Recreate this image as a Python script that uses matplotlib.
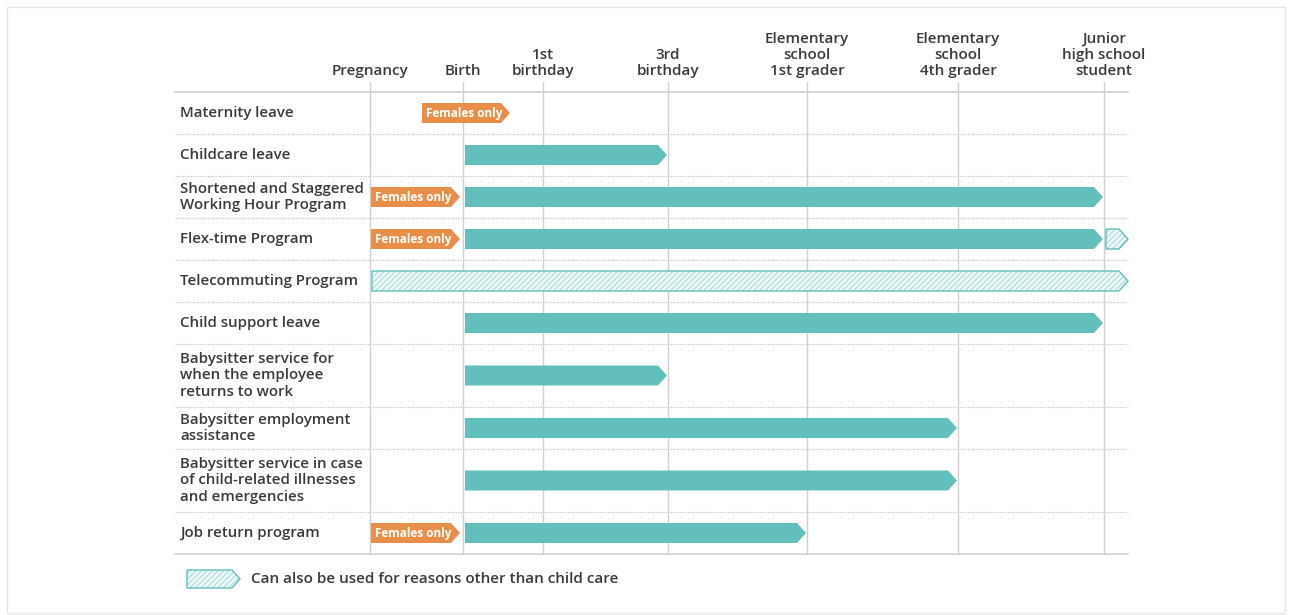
import matplotlib
matplotlib.use("Agg")
import matplotlib.pyplot as plt
from matplotlib.patches import Polygon, Rectangle

# ---------------- data ----------------
milestones = ["Pregnancy", "Birth", "1st\nbirthday", "3rd\nbirthday",
              "Elementary\nschool\n1st grader", "Elementary\nschool\n4th grader",
              "Junior\nhigh school\nstudent"]
programs = ["Maternity leave", "Childcare leave",
            "Shortened and Staggered\nWorking Hour Program", "Flex-time Program",
            "Telecommuting Program", "Child support leave",
            "Babysitter service for\nwhen the employee\nreturns to work",
            "Babysitter employment\nassistance",
            "Babysitter service in case\nof child-related illnesses\nand emergencies",
            "Job return program"]
# child-care period (milestone index start/end), None = no bar
care_start = [None, 1, 1, 1, None, 1, 1, 1, 1, 1]
care_end = [None, 3, 6, 6, None, 6, 3, 5, 5, 4]
# females-only period: "pre" = pregnancy -> birth, "around" = around birth
females_only = ["around", None, "pre", "pre", None, None, None, None, None, "pre"]
# usable for other reasons from this milestone onwards (beyond last milestone)
other_start = [None, None, None, 6, 0, None, None, None, None, None]
tag_text = "Females only"
legend_text = "Can also be used for reasons other than child care"

# ---------------- style / layout ----------------
W, H = 1292, 615
MX = [370, 463, 543, 668, 807, 958, 1104]   # milestone positions on the timeline scale
X_LEFT, X_RIGHT = 172, 1128
TOP = 92
ROW_UNIT = 21
TEAL = "#62BFBC"
ORANGE = "#E98E48"
HATCH_FILL = "#EEF8F8"
HATCH_COL = "#A9DCD9"
TEXT = "#3A3A3A"
GRID = "#CFCFCF"
DOT = "#C4C4C4"
BAR_H = 20
TIP = 9
FONT = ["Open Sans", "DejaVu Sans"]

plt.rcParams["font.family"] = FONT
plt.rcParams["hatch.linewidth"] = 0.8

fig = plt.figure(figsize=(W / 100, H / 100), dpi=100)
fig.patch.set_facecolor("white")

# row boundaries from label line counts
heights = [ROW_UNIT * max(2, p.count("\n") + 1) for p in programs]
bounds = [TOP]
for h in heights:
    bounds.append(bounds[-1] + h)
BOTTOM = bounds[-1]

ax = fig.add_axes([X_LEFT / W, 1 - BOTTOM / H, (X_RIGHT - X_LEFT) / W, (BOTTOM - TOP) / H])
ax.set_xlim(X_LEFT, X_RIGHT)
ax.set_ylim(BOTTOM, TOP)
ax.axis("off")


def arrow(x0, x1, yc, h=BAR_H, tip=TIP):
    return [(x0, yc - h / 2), (x1 - tip, yc - h / 2), (x1, yc),
            (x1 - tip, yc + h / 2), (x0, yc + h / 2)]


def add_hatched(pts, transform, target):
    p1 = Polygon(pts, closed=True, facecolor=HATCH_FILL, edgecolor=HATCH_COL,
                 hatch="//////", linewidth=0, clip_on=False, transform=transform, zorder=3)
    p2 = Polygon(pts, closed=True, facecolor="none", edgecolor=TEAL,
                 linewidth=1.0, clip_on=False, transform=transform, zorder=3)
    target(p1)
    target(p2)


# horizontal lines
ax.plot([X_LEFT + 3, X_RIGHT], [TOP, TOP], color=GRID, lw=1.2, clip_on=False, zorder=1)
ax.plot([X_LEFT + 3, X_RIGHT], [BOTTOM, BOTTOM], color=GRID, lw=1.2, clip_on=False, zorder=1)
for b in bounds[1:-1]:
    ax.plot([X_LEFT + 3, X_RIGHT], [b, b], color=DOT, lw=0.9,
            linestyle=(0, (1, 1)), clip_on=False, zorder=1)

# vertical milestone lines and headings
for name, x in zip(milestones, MX):
    ax.plot([x, x], [TOP - 10, BOTTOM], color=GRID, lw=1.0, clip_on=False, zorder=1)
    ax.text(x, TOP - 14, name, ha="center", va="bottom", multialignment="center",
            fontsize=11, fontweight="semibold", color=TEXT, linespacing=1.2)

# rows
for i, name in enumerate(programs):
    yc = (bounds[i] + bounds[i + 1]) / 2
    ax.text(X_LEFT + 8, yc, name, ha="left", va="center", fontsize=10.8,
            fontweight="semibold", color=TEXT, linespacing=1.2)

    if care_start[i] is not None:
        x0 = MX[care_start[i]] + 2
        x1 = MX[care_end[i]] - 1
        ax.add_patch(Polygon(arrow(x0, x1, yc), closed=True, facecolor=TEAL,
                             edgecolor="none", zorder=3))

    if females_only[i] is not None:
        if females_only[i] == "pre":
            x0, x1 = MX[0] + 1, MX[1] - 3
        else:
            x0, x1 = MX[1] - 41, MX[1] + 47
        ax.add_patch(Polygon(arrow(x0, x1, yc), closed=True, facecolor=ORANGE,
                             edgecolor="none", zorder=3))
        ax.text((x0 + x1 - TIP / 2) / 2, yc, tag_text, ha="center", va="center",
                fontsize=8.5, fontweight="bold", color="white", zorder=4)

    if other_start[i] is not None:
        x0 = MX[other_start[i]] + 2
        add_hatched(arrow(x0, X_RIGHT, yc), ax.transData, ax.add_patch)

# legend
lx0, lx1, ly = 187 / W, 240 / W, 1 - 579 / H
lh = 18 / H
ltip = 8 / W
pts = [(lx0, ly - lh / 2), (lx1 - ltip, ly - lh / 2), (lx1, ly),
       (lx1 - ltip, ly + lh / 2), (lx0, ly + lh / 2)]
add_hatched(pts, fig.transFigure, fig.add_artist)
fig.text(251 / W, ly, legend_text, ha="left", va="center", fontsize=11,
         fontweight="semibold", color=TEXT)

# outer frame
fig.add_artist(Rectangle((7 / W, 2 / H), (1285 - 7) / W, (613 - 7) / H,
                         transform=fig.transFigure, facecolor="none",
                         edgecolor="#E4E4E4", linewidth=1.0))

fig.savefig("out.png", dpi=100, facecolor="white")
